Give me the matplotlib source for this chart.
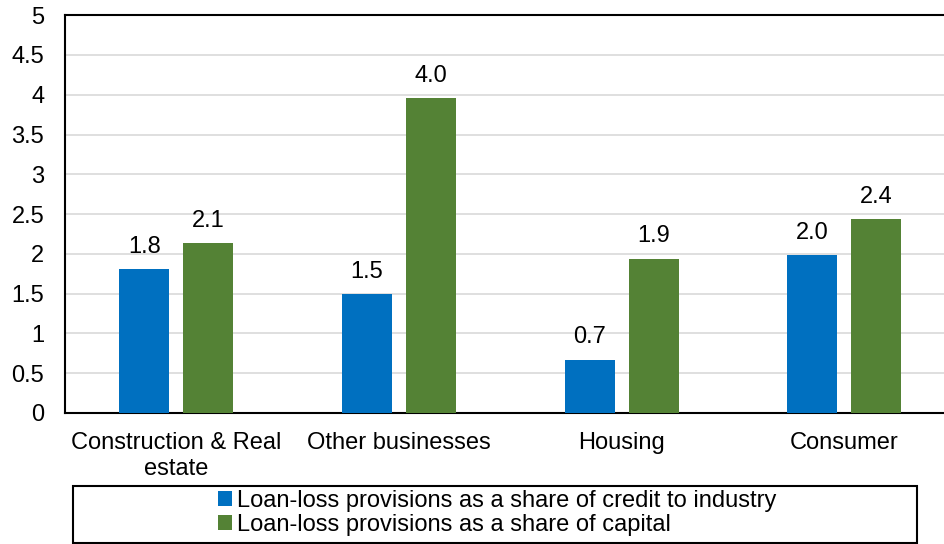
import matplotlib.pyplot as plt
import numpy as np
from matplotlib.patches import Rectangle

plt.rcParams['font.family'] = ['Liberation Sans', 'DejaVu Sans']

categories = ["Construction & Real\nestate", "Other businesses", "Housing", "Consumer"]
credit_share = [1.81, 1.49, 0.67, 1.99]
capital_share = [2.14, 3.96, 1.94, 2.44]
series_names = ["Loan-loss provisions as a share of credit to industry",
                "Loan-loss provisions as a share of capital"]
yticks = [0, 0.5, 1, 1.5, 2, 2.5, 3, 3.5, 4, 4.5, 5]

fig = plt.figure(figsize=(9.44, 5.44), dpi=100)
# plot area runs a little past the right edge of the image, as in the source
ax = fig.add_axes([0.069, 0.241, 0.9436, 0.731])

x = np.arange(len(categories))
w = 0.2245
b1 = ax.bar(x - 0.145, credit_share, w, color="#0070C0", label=series_names[0], zorder=3)
b2 = ax.bar(x + 0.143, capital_share, w, color="#548235", label=series_names[1], zorder=3)

for bars in (b1, b2):
    for bar in bars:
        h = bar.get_height()
        ax.annotate(f"{h:.1f}", (bar.get_x() + bar.get_width() / 2, h),
                    xytext=(0, 8), textcoords="offset points",
                    ha="center", va="bottom", fontsize=17)

ax.set_xlim(-0.5, 3.5)
ax.set_ylim(0, 5)
ax.set_yticks(yticks)
ax.set_yticklabels([f"{t:g}" for t in yticks], fontsize=17)
ax.set_xticks(x)
ax.set_xticklabels(categories, fontsize=17, linespacing=1.2)
ax.tick_params(axis="x", length=0, pad=14)
ax.tick_params(axis="y", length=0, pad=15)
ax.yaxis.grid(True, color="#d9d9d9", linewidth=1.2, zorder=0)
ax.spines["right"].set_visible(False)
for s in ("left", "bottom", "top"):
    ax.spines[s].set_color("black")
    ax.spines[s].set_linewidth(1.5)

# legend box
fig.patches.append(Rectangle((73 / 944, 1 - 543 / 544), (917 - 73) / 944, (543 - 486) / 544,
                             transform=fig.transFigure, fill=False, edgecolor="black", linewidth=1.5))
fig.legend(handles=[b1, b2], loc="center", bbox_to_anchor=(497 / 944, 1 - 513 / 544),
           frameon=False, fontsize=17, handlelength=0.6, handleheight=0.6,
           handletextpad=0.2, labelspacing=0.1, borderpad=0)

fig.savefig("out.png", dpi=100)
